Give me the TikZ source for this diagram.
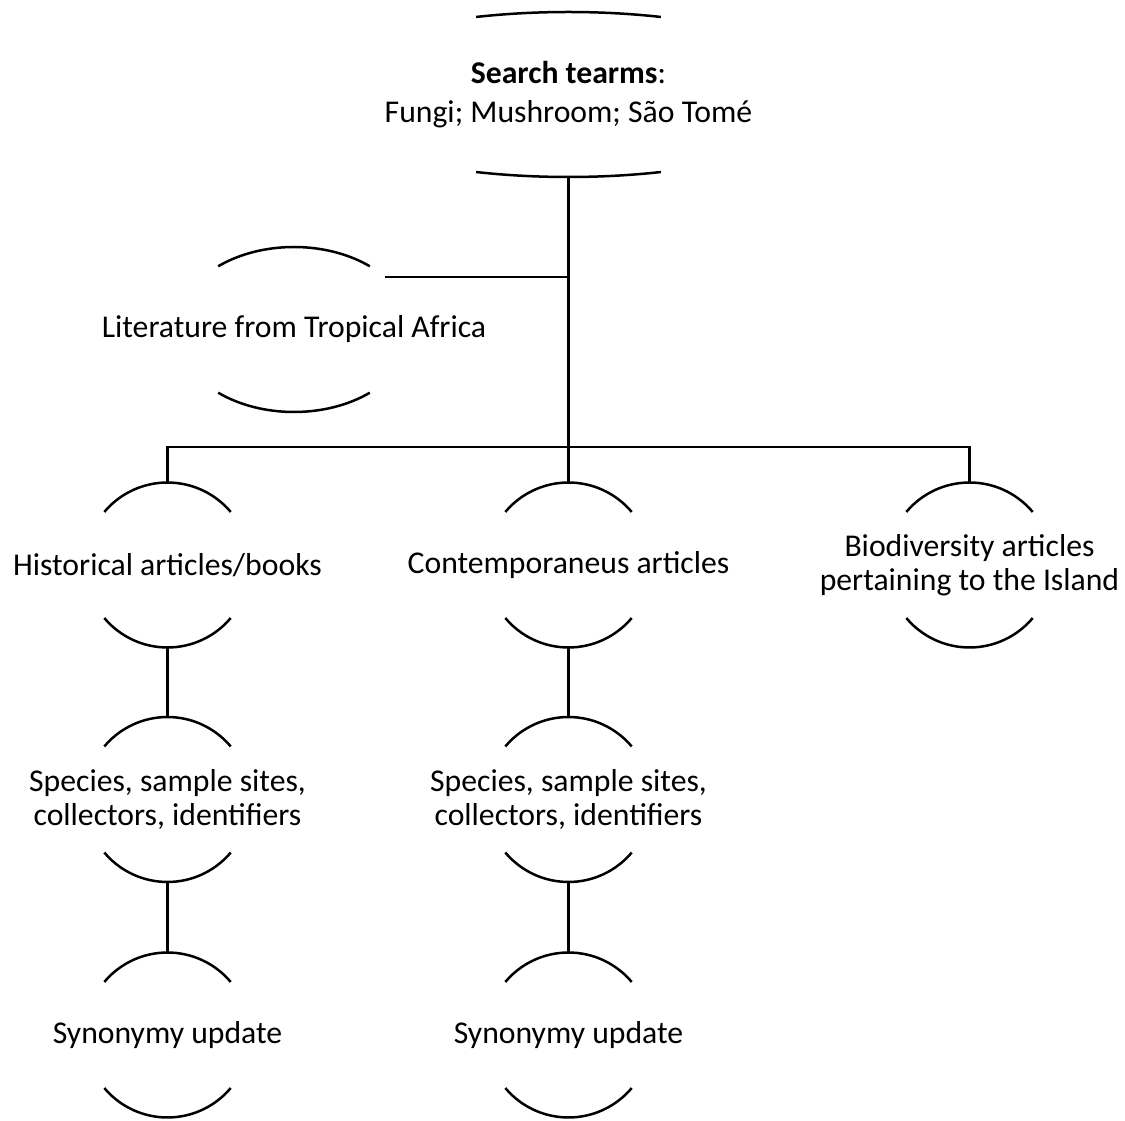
\documentclass[tikz,border=0pt]{standalone}
\usepackage{fontspec}
\setmainfont{Carlito}
\usetikzlibrary{trees}

% top and bottom arcs round a node: name, x radius, half angle
\newcommand\brk[3]{%
  \draw[arcline] ([shift={(90+#3:#2pt and 82.5pt)}]#1.center) arc[start angle=90+#3, delta angle=-2*#3, x radius=#2pt, y radius=82.5pt];
  \draw[arcline] ([shift={(270-#3:#2pt and 82.5pt)}]#1.center) arc[start angle=270-#3, delta angle=2*#3, x radius=#2pt, y radius=82.5pt];
}

\begin{document}
\begin{tikzpicture}[x=1pt, y=1pt,
level 1/.style={level distance=470.5pt, sibling distance=401pt,
  edge from parent path={(\tikzparentnode.south) |- ([yshift=35pt]\tikzchildnode.north) -- (\tikzchildnode.north)}},
level 2/.style={level distance=234.5pt,
  edge from parent path={(\tikzparentnode.south) -- (\tikzchildnode.north)}},
level 3/.style={level distance=235.5pt},
every node/.style={shape=rectangle, align=center, minimum height=165pt, inner sep=0pt, font=\fontsize{31.7}{34.5}\selectfont},
edge from parent/.style={draw, line width=2.2pt},
arcline/.style={line width=2.5pt},
link/.style={draw, line width=2.2pt}]
\useasboundingbox (0,0) rectangle (1125,1120);
%
\node (search) at (568.5,1025.5) {\textbf{Search tearms}:\\[4pt] Fungi; Mushroom; São Tomé}
	child { node (hist) {Historical articles/books}
		child { node (hspec) {Species, sample sites,\\ collectors, identifiers}
			child { node (hsyn) {Synonymy update} } }
	}
	child { node (contemp) {Contemporaneus articles}
		child { node (cspec) {Species, sample sites,\\ collectors, identifiers}
			child { node (csyn) {Synonymy update} } }
	}
	child { node (bio) {Biodiversity articles\\ pertaining to the Island} }
;
\node (lit) at (294,790.5) {Literature from Tropical Africa};
\coordinate (litjoin) at ([shift={(39.5:118pt and 82.5pt)}]lit.center);
\draw[link] (litjoin) -- (litjoin -| search.south);
%
\brk{search}{270}{20}
\brk{lit}{118}{40}
\foreach \n in {hist, contemp, bio, hspec, cspec, hsyn, csyn} {\brk{\n}{82.5}{50}}
\end{tikzpicture}
\end{document}
